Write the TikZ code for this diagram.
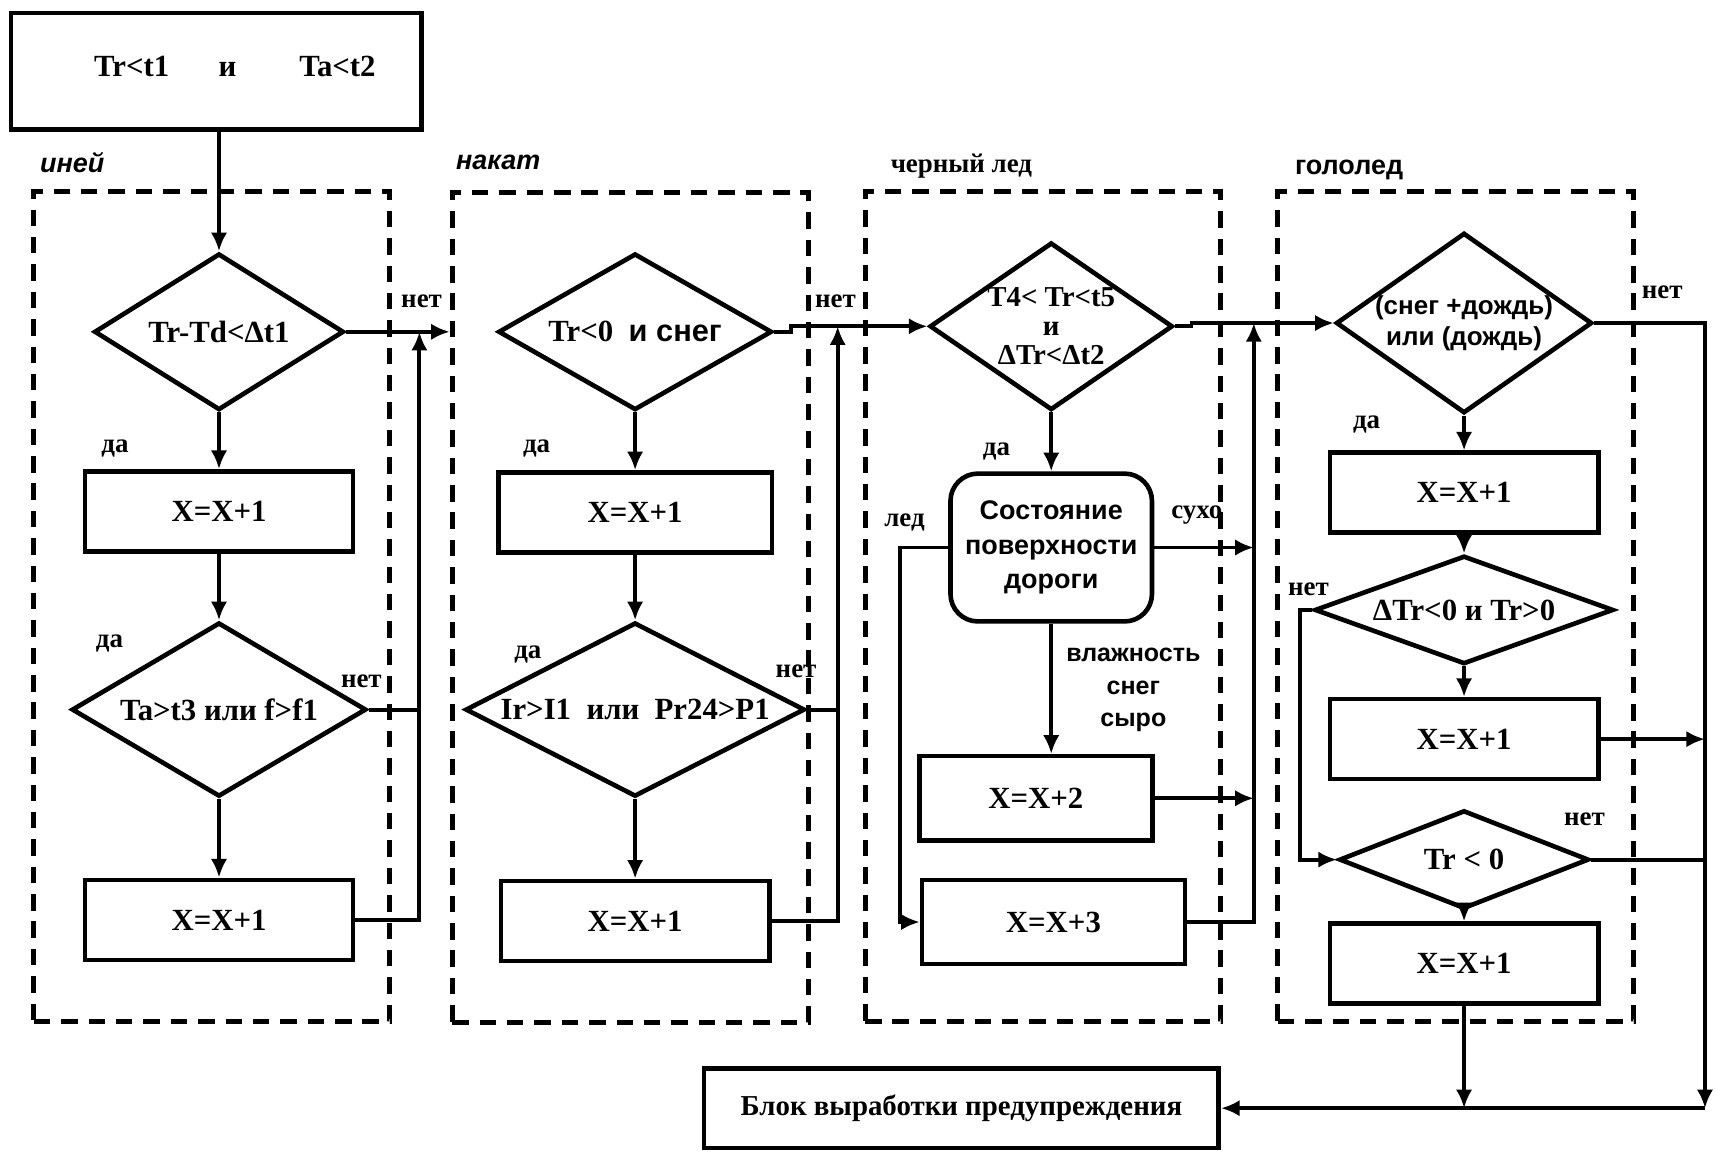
\documentclass[tikz,border=0pt]{standalone}
\usepackage{fontspec}
\setmainfont{Liberation Serif}
\setsansfont{Liberation Sans}
\usepackage{tikz}
\usetikzlibrary{arrows.meta,shapes.geometric}
\usetikzlibrary{positioning}
\tikzset{>={Latex[length=3.4mm,width=3mm]}}

\begin{document}
\begin{tikzpicture}[x=0.2mm, y=-0.2mm, on grid,
    act/.style={draw, line width=2.4pt, minimum width=49mm, minimum height=14.6mm, font=\fontsize{16}{18}\selectfont\bfseries},
    cond/.style={diamond, draw, line width=2.4pt, inner sep=0pt, align=center, font=\fontsize{16}{18}\selectfont\bfseries},
    group/.style={draw, dash pattern=on 3mm off 2mm, line width=2.6pt, minimum width=65mm, minimum height=151.6mm},
    grplbl/.style={font=\fontsize{14}{16}\selectfont\sffamily\bfseries\itshape},
    lbl/.style={font=\fontsize{14}{16}\selectfont\bfseries, inner sep=1pt},
    flow/.style={line width=2pt}]
  \useasboundingbox (0,0) rectangle (1568,1055);
  % dashed groups
  \node[group] (g1) at (193.5,553.5) {};
  \node[group] (g2) at (575.5,555) {};
  \node[group] (g3) at (952.5,554) {};
  \node[group] (g4) at (1329.5,554) {};
  \node[grplbl] (l1) at (66,148) {иней};
  \node[grplbl] (l2) at (455,148) {накат};
  \node[grplbl, font=\fontsize{14}{16}\selectfont\bfseries] (l3) at (878,152) {черный лед};
  \node[grplbl, font=\fontsize{14}{16}\selectfont\sffamily\bfseries] (l4) at (1232,155) {гололед};

  \node[act, minimum width=75mm, minimum height=21.2mm] (top) at (197.5,65) {\raisebox{1.6mm}{\hspace*{6.8mm}Tr<t1\hspace{9mm}и\hspace{11.5mm}Ta<t2}};
  \node[act, minimum width=94mm, font=\fontsize{15}{17}\selectfont\bfseries] (warn) at (878,1012) {Блок выработки предупреждения};

  \node[cond, shape aspect=1.6, minimum width=45.6mm, minimum height=28.6mm] (d11) at (200,303) {Tr-Td<Δt1};
  \node[act] (b11) [below=32.8mm of d11] {X=X+1};
  \node[cond, shape aspect=1.7, minimum width=53.8mm, minimum height=31.8mm] (d12) [below=36.2mm of b11] {Ta>t3 или f>f1};
  \node[act] (b12) [below=38.4mm of d12] {X=X+1};

  \node[cond, shape aspect=1.75, minimum width=50mm, minimum height=28.6mm] (d21) at (580,303) {Tr<0~~{\sffamily и снег}};
  \node[act, minimum width=50mm] (b21) [below=33mm of d21] {X=X+1};
  \node[cond, shape aspect=1.95, minimum width=62mm, minimum height=31.8mm] (d22) [below=36mm of b21] {Ir>I1~ или~ Pr24>P1};
  \node[act] (b22) [below=38.6mm of d22] {X=X+1};

  \node[cond, shape aspect=1.45, minimum width=44.4mm, minimum height=30.6mm, font=\fontsize{15}{15}\selectfont\bfseries] (d31) at (960,298) {T4< Tr<t5\\и\\ΔTr<Δt2};
  \node[draw, rounded corners=5mm, line width=2.4pt, minimum width=36.8mm, minimum height=27mm, align=center, font=\fontsize{14}{18}\selectfont\sffamily\bfseries] (rs) [below=40.4mm of d31] {Состояние\\поверхности\\дороги};
  \node[act, minimum width=42.6mm, minimum height=15.4mm] (b31) at (946,729) {X=X+2};
  \node[act, minimum width=48mm, minimum height=15.4mm] (b32) at (962,842) {X=X+3};

  \node[cond, shape aspect=1.42, minimum width=46mm, minimum height=32.4mm, font=\fontsize{13.5}{16}\selectfont\sffamily\bfseries] (d41) at (1337,295) {(снег +дождь)\\или (дождь)};
  \node[act] (b41) [below=31mm of d41] {X=X+1};
  \node[cond, shape aspect=2.76, minimum width=54.6mm, minimum height=19.8mm] (d42) [below=21.4mm of b41] {ΔTr<0 и Tr>0};
  \node[act] (b42) [below=23.6mm of d42] {X=X+1};
  \node[cond, shape aspect=2.53, minimum width=45.6mm, minimum height=18mm] (d43) [below=22mm of b42] {Tr < 0};
  \node[act] (b43) [below=19mm of d43] {X=X+1};

  \coordinate (bus1) at (383,0);
  \coordinate (bus2) at (765,0);
  \coordinate (bus3) at (1145,0);
  \coordinate (bus4) at (1557,0);
  \coordinate (ice) at (822,0);
  \coordinate (skip) at (1187,0);

  \draw[flow,->] (top.south -| d11.north) -- (d11.north);
  \draw[flow,->] (d11) -- (b11);
  \draw[flow,->] (b11) -- (d12);
  \draw[flow,->] (d12) -- (b12);
  \draw[flow,->] (d11.east) -- (d11.east -| g2.west);
  \draw[flow,->] (b12.east) -| (bus1 |- d11.east);
  \draw[flow] (d12.east) -- (d12.east -| bus1);

  \draw[flow,->] (d21) -- (b21);
  \draw[flow,->] (b21) -- (d22);
  \draw[flow,->] (d22) -- (b22);
  \draw[flow,->] (d21.east) -- ++(15,0) |- (d31.west);
  \draw[flow,->] (b22.east) -| (bus2 |- d31.west);
  \draw[flow] (d22.east) -- (d22.east -| bus2);

  \draw[flow,->] (d31) -- (rs);
  \draw[flow,->] (rs.south) -- (rs.south |- b31.north);
  \draw[flow,->] (rs.west) -- (rs.west -| ice) |- (b32.west);
  \draw[flow,->] (rs.east) -- (rs.east -| bus3);
  \draw[flow,->] (b31.east) -- (b31.east -| bus3);
  \draw[flow,->] (b32.east) -| (bus3 |- d41.west);
  \draw[flow,->] (d31.east) -- ++(15,0) |- (d41.west);

  \draw[flow,->] (d41) -- (b41);
  \draw[flow,->] (b41) -- (d42);
  \draw[flow,->] (d42) -- (b42);
  \draw[flow,->] (d43) -- (b43);
  \draw[flow,->] (d42.west) -- (d42.west -| skip) |- (d43.west);
  \draw[flow,->] (b42.east) -- (b42.east -| bus4);
  \draw[flow] (d43.east) -- (d43.east -| bus4);
  \draw[flow,->] (d41.east) -| (bus4 |- warn.east);
  \draw[flow,->] (bus4 |- warn.east) -- (warn.east);
  \draw[flow,->] (b43) -- (b43.south |- warn.east);

  \node[lbl] (n1) at (385,275) {нет};
  \node[lbl] (y1) at (105,410) {да};
  \node[lbl] (y2) at (100,588) {да};
  \node[lbl] (n2) at (330,622) {нет};
  \node[lbl] (n3) at (763,275) {нет};
  \node[lbl] (y3) at (490,410) {да};
  \node[lbl] (y4) at (482,598) {да};
  \node[lbl] (n4) at (727,613) {нет};
  \node[lbl] (y5) at (910,412) {да};
  \node[lbl] (s1) at (826,477) {лед};
  \node[lbl] (s2) at (1093,470) {сухо};
  \node[lbl, align=center, font=\fontsize{13}{17}\selectfont\sffamily\bfseries] (s3) at (1035,630) {влажность\\снег\\сыро};
  \node[lbl] (n5) at (1518,267) {нет};
  \node[lbl] (y6) at (1248,388) {да};
  \node[lbl] (n6) at (1195,538) {нет};
  \node[lbl] (n7) at (1447,748) {нет};
\end{tikzpicture}
\end{document}
